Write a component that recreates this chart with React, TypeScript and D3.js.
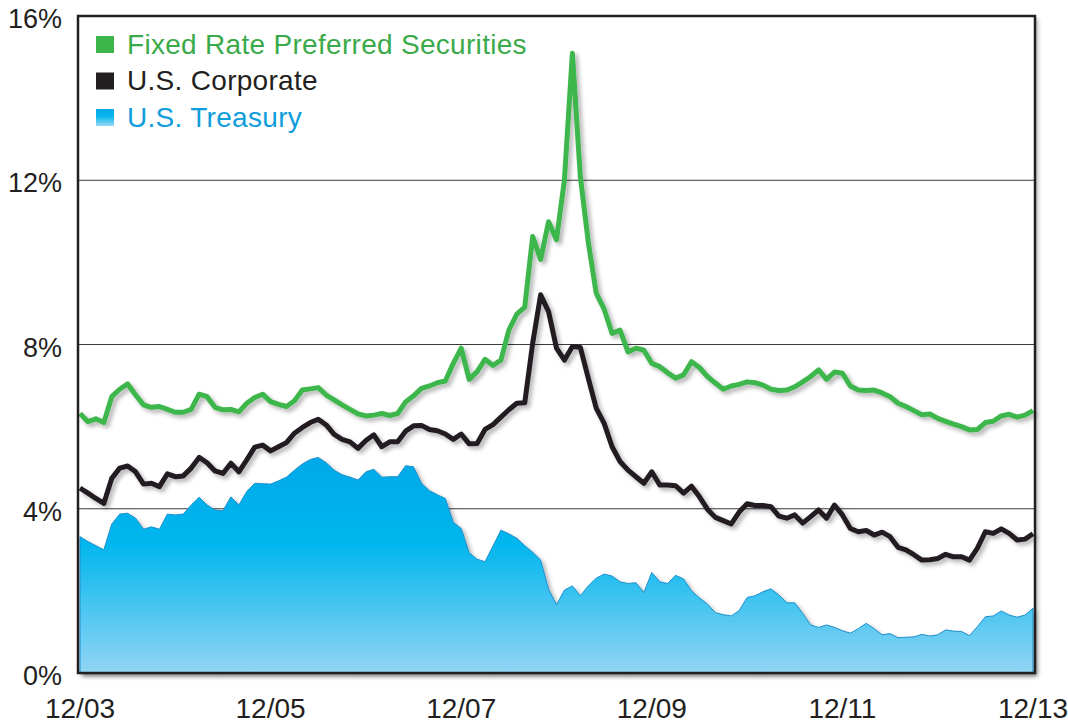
import React from 'react';
import * as d3 from 'd3';

// monthly yields, 12/03 .. 12/13 (121 points)
const preferred = [
  6.32, 6.12, 6.19, 6.1, 6.73, 6.91, 7.04, 6.77, 6.53, 6.47, 6.49, 6.42, 6.35, 6.35, 6.42, 6.79, 6.73, 6.47, 6.41, 6.42, 6.36,
  6.57, 6.71, 6.79, 6.61, 6.54, 6.49, 6.63, 6.89, 6.92, 6.95, 6.77, 6.65, 6.53, 6.42, 6.31, 6.26, 6.28, 6.32, 6.27, 6.32,
  6.6, 6.75, 6.93, 6.99, 7.07, 7.11, 7.54, 7.91, 7.15, 7.34, 7.64, 7.49, 7.62, 8.35, 8.74, 8.91, 10.63, 10.07, 10.99, 10.55,
  12.01, 15.09, 12.09, 10.5, 9.25, 8.86, 8.27, 8.35, 7.82, 7.91, 7.86, 7.54, 7.46, 7.31, 7.18, 7.26, 7.58, 7.44, 7.22, 7.06,
  6.91, 6.99, 7.03, 7.09, 7.07, 7.01, 6.91, 6.88, 6.89, 6.97, 7.09, 7.22, 7.38, 7.15, 7.33, 7.3, 6.99, 6.89, 6.88, 6.89,
  6.82, 6.73, 6.57, 6.49, 6.39, 6.29, 6.31, 6.2, 6.13, 6.06, 6.0, 5.92, 5.93, 6.1, 6.13, 6.26, 6.3, 6.23, 6.28, 6.39,
];

const corporate = [
  4.5, 4.38, 4.25, 4.13, 4.74, 4.99, 5.04, 4.9, 4.6, 4.62, 4.54, 4.85, 4.78, 4.8, 4.99, 5.25, 5.12, 4.92, 4.86, 5.11, 4.9,
  5.19, 5.5, 5.55, 5.41, 5.51, 5.61, 5.84, 5.98, 6.1, 6.18, 6.04, 5.81, 5.69, 5.63, 5.47, 5.66, 5.8, 5.51, 5.63, 5.63,
  5.89, 6.02, 6.03, 5.93, 5.9, 5.82, 5.69, 5.82, 5.58, 5.59, 5.93, 6.05, 6.23, 6.41, 6.57, 6.58, 8.03, 9.21, 8.8, 7.91,
  7.62, 7.95, 7.93, 7.18, 6.45, 6.08, 5.51, 5.15, 4.94, 4.78, 4.62, 4.9, 4.58, 4.58, 4.56, 4.38, 4.55, 4.29, 3.99, 3.79,
  3.71, 3.63, 3.92, 4.12, 4.08, 4.08, 4.05, 3.82, 3.77, 3.85, 3.65, 3.81, 3.97, 3.77, 4.09, 3.85, 3.52, 3.44, 3.47, 3.36,
  3.43, 3.32, 3.06, 3.0, 2.88, 2.75, 2.76, 2.79, 2.89, 2.83, 2.83, 2.75, 3.04, 3.44, 3.4, 3.51, 3.4, 3.24, 3.26, 3.39,
];

const treasury = [
  3.32, 3.2, 3.1, 3.0, 3.63, 3.87, 3.89, 3.77, 3.5, 3.56, 3.5, 3.87, 3.85, 3.87, 4.09, 4.28, 4.09, 3.97, 3.95, 4.29, 4.09,
  4.42, 4.62, 4.61, 4.6, 4.68, 4.77, 4.94, 5.09, 5.2, 5.25, 5.12, 4.94, 4.83, 4.77, 4.7, 4.9, 4.96, 4.77, 4.78, 4.78,
  5.05, 5.02, 4.62, 4.44, 4.34, 4.25, 3.67, 3.52, 2.93, 2.77, 2.71, 3.09, 3.48, 3.39, 3.28, 3.1, 2.94, 2.75, 2.04, 1.66,
  2.02, 2.12, 1.88, 2.12, 2.31, 2.41, 2.36, 2.22, 2.18, 2.2, 1.96, 2.45, 2.22, 2.18, 2.38, 2.29, 2.0, 1.83, 1.68, 1.47,
  1.42, 1.39, 1.52, 1.84, 1.88, 1.98, 2.05, 1.9, 1.71, 1.71, 1.45, 1.17, 1.11, 1.17, 1.11, 1.03, 0.97, 1.08, 1.21, 1.08,
  0.93, 0.96, 0.86, 0.87, 0.88, 0.94, 0.9, 0.93, 1.05, 1.02, 1.01, 0.91, 1.13, 1.37, 1.39, 1.51, 1.41, 1.36, 1.41, 1.58,
];

const xTickLabels = ['12/03', '12/05', '12/07', '12/09', '12/11', '12/13'];
const yTicks = [0, 4, 8, 12, 16];
const legendItems = [
  { label: 'Fixed Rate Preferred Securities', color: '#3aaa4a', swatch: '#3cb64b' },
  { label: 'U.S. Corporate', color: '#231f20', swatch: '#231f20' },
  { label: 'U.S. Treasury', color: '#0f9ddb', swatch: 'url(#treasGrad)' },
];

const W = 1068;
const H = 723;
const frame = { left: 78, right: 1035, top: 16, bottom: 673 };
const font = '"Liberation Sans", Arial, Helvetica, sans-serif';

export default function App() {
  const x = d3.scaleLinear().domain([0, 120]).range([80, 1033]);
  const y = d3.scaleLinear().domain([0, 16]).range([frame.bottom, frame.top]);

  const line = d3
    .line<number>()
    .x((_, i) => x(i))
    .y((d) => y(d));

  const area = d3
    .area<number>()
    .x((_, i) => x(i))
    .y0(y(0))
    .y1((d) => y(d));

  return (
    <svg
      width={W}
      height={H}
      style={{ position: 'absolute', left: 0, top: 0, background: '#fff' }}
      fontFamily={font}
    >
      <defs>
        <linearGradient id="treasGrad" x1="0" y1="0" x2="0" y2="1">
          <stop offset="0%" stopColor="#00a6e6" />
          <stop offset="45%" stopColor="#0cb8ee" />
          <stop offset="100%" stopColor="#98d8f5" />
        </linearGradient>
        <linearGradient id="treasArea" gradientUnits="userSpaceOnUse" x1="0" y1={y(5.3)} x2="0" y2={y(0)}>
          <stop offset="0%" stopColor="#00a8e8" />
          <stop offset="40%" stopColor="#00b6ee" />
          <stop offset="100%" stopColor="#92d5f4" />
        </linearGradient>
        <filter id="shadow" x="-5%" y="-5%" width="110%" height="115%">
          <feDropShadow dx="3" dy="3" stdDeviation="2" floodColor="#000" floodOpacity="0.3" />
        </filter>
      </defs>

      {/* plot background + frame shadow */}
      <rect
        x={frame.left}
        y={frame.top}
        width={frame.right - frame.left}
        height={frame.bottom - frame.top}
        fill="#fff"
        filter="url(#shadow)"
      />

      {/* grid lines */}
      {yTicks
        .filter((t) => t > 0 && t < 16)
        .map((t) => (
          <line key={t} x1={frame.left} x2={frame.right} y1={y(t)} y2={y(t)} stroke="#3a3a3a" strokeWidth={1} />
        ))}

      {/* treasury area */}
      <path
        d={area(treasury) || ''}
        fill="url(#treasArea)"
        stroke="#1c8fcc"
        strokeWidth={1}
        filter="url(#shadow)"
      />

      {/* lines */}
      <path
        d={line(corporate) || ''}
        fill="none"
        stroke="#231f20"
        strokeWidth={5}
        strokeLinejoin="round"
        filter="url(#shadow)"
      />
      <path
        d={line(preferred) || ''}
        fill="none"
        stroke="#3cb64b"
        strokeWidth={5}
        strokeLinejoin="round"
        filter="url(#shadow)"
      />

      {/* frame */}
      <rect
        x={frame.left}
        y={frame.top}
        width={frame.right - frame.left}
        height={frame.bottom - frame.top}
        fill="none"
        stroke="#231f20"
        strokeWidth={2.5}
      />

      {/* y axis labels */}
      {yTicks.map((t) => (
        <text key={t} x={62} y={y(t) + 12} textAnchor="end" fontSize={27} fill="#231f20">
          {t}%
        </text>
      ))}

      {/* x axis labels */}
      {xTickLabels.map((lab, i) => (
        <text key={lab} x={x(i * 24)} y={718} textAnchor="middle" fontSize={28} fill="#231f20">
          {lab}
        </text>
      ))}

      {/* legend */}
      {legendItems.map((it, i) => (
        <g key={it.label} transform={`translate(96, ${36 + i * 36.5})`}>
          <rect x={0} y={0} width={18} height={17} fill={it.swatch} />
          <text x={31} y={17.5} fontSize={28} letterSpacing={0.3} fill={it.color}>
            {it.label}
          </text>
        </g>
      ))}
    </svg>
  );
}
